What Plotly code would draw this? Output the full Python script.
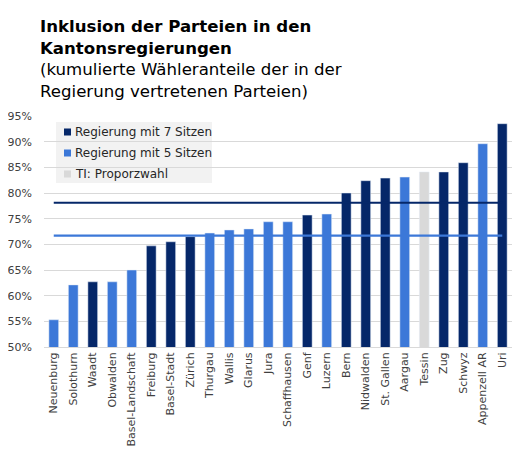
import plotly.graph_objects as go

# Kantone, sortiert nach kumuliertem Wähleranteil (in %)
kantone = ["Neuenburg", "Solothurn", "Waadt", "Obwalden", "Basel-Landschaft",
           "Freiburg", "Basel-Stadt", "Zürich", "Thurgau", "Wallis", "Glarus",
           "Jura", "Schaffhausen", "Genf", "Luzern", "Bern", "Nidwalden",
           "St. Gallen", "Aargau", "Tessin", "Zug", "Schwyz", "Appenzell AR", "Uri"]
anteil = [55.3, 62.1, 62.7, 62.7, 65.0, 69.7, 70.5, 71.5, 72.2, 72.8, 73.0,
          74.4, 74.4, 75.7, 75.9, 80.0, 82.4, 82.9, 83.1, 84.1, 84.1, 85.9, 89.6, 93.5]
gruppe = ["5", "5", "7", "5", "5", "7", "7", "7", "5", "5", "5",
          "5", "5", "7", "5", "7", "7", "7", "5", "TI", "7", "7", "5", "7"]

# Durchschnitt je Gruppe
mittel_7 = 78.1
mittel_5 = 71.7

legende = ["Regierung mit 7 Sitzen", "Regierung mit 5 Sitzen", "TI: Proporzwahl"]
farben = {"7": "#052769", "5": "#3c78d8", "TI": "#d9d9d9"}

FONT = "DejaVu Sans"
# die Seite hat 8px Rand rundherum -> Figur kleiner, damit nichts scrollt
OFF = 8
W, H = 527 - 2 * OFF, 454 - 2 * OFF
L, R, T, B = 44 - OFF, 7, 116 - OFF, 99
PW, PH = W - L - R, H - T - B


def px(x):
    # Pixel im Fenster -> paper
    return (x - OFF - L) / PW


def py(y):
    return (H - B - (y - OFF)) / PH


fig = go.Figure()

fig.add_trace(go.Bar(
    x=kantone, y=anteil,
    marker_color=[farben[g] for g in gruppe],
    width=0.5, showlegend=False,
    hovertemplate="%{x}: %{y:.1f}%<extra></extra>",
))

fig.add_trace(go.Scatter(
    x=[kantone[0], kantone[-1]], y=[mittel_7, mittel_7], mode="lines",
    line=dict(color=farben["7"], width=2.2), showlegend=False, hoverinfo="skip",
))
fig.add_trace(go.Scatter(
    x=[kantone[0], kantone[-1]], y=[mittel_5, mittel_5], mode="lines",
    line=dict(color=farben["5"], width=2.2), showlegend=False, hoverinfo="skip",
))

# Legende von Hand (grauer Kasten wie in Excel)
shapes = [
    dict(type="rect", xref="paper", yref="paper",
         x0=px(56), x1=px(212), y0=py(183), y1=py(122),
         fillcolor="#f2f2f2", line_width=0, layer="below"),
]
annotations = []
for i, (name, key) in enumerate(zip(legende, ["7", "5", "TI"])):
    yc = 132 + i * 21
    shapes.append(dict(type="rect", xref="paper", yref="paper",
                       x0=px(64), x1=px(71), y0=py(yc + 3.5), y1=py(yc - 3.5),
                       fillcolor=farben[key], line_width=0))
    annotations.append(dict(text=name, xref="paper", yref="paper",
                            x=px(73), y=py(yc), xanchor="left", yanchor="middle",
                            showarrow=False, font=dict(size=12, color="#262626")))

fig.update_layout(
    width=W, height=H,
    margin=dict(l=L, r=R, t=T, b=B),
    paper_bgcolor="white", plot_bgcolor="white",
    font=dict(family=FONT, color="#404040"),
    title=dict(
        text="<b>Inklusion der Parteien in den<br>Kantonsregierungen</b><br>"
             "(kumulierte Wähleranteile der in der<br>Regierung vertretenen Parteien)",
        x=(40 - OFF) / W, xref="container", xanchor="left",
        y=1 - 24 / H, yref="container", yanchor="top",
        font=dict(family=FONT, size=16.6, color="black"),
    ),
    shapes=shapes,
    annotations=annotations,
    bargap=0.5,
)

fig.update_xaxes(
    categoryorder="array", categoryarray=kantone,
    tickangle=-90, tickfont=dict(size=11, color="#404040"),
    showline=True, linecolor="#d9d9d9", linewidth=1,
    ticks="", showgrid=False, automargin=False,
)
fig.update_yaxes(
    range=[50, 95], dtick=5, ticksuffix="%",
    tickfont=dict(size=11, color="#404040"),
    showgrid=True, gridcolor="#d9d9d9", gridwidth=1,
    zeroline=False, showline=False, ticklabelstandoff=11, automargin=False,
)

fig.write_html("out.html")
